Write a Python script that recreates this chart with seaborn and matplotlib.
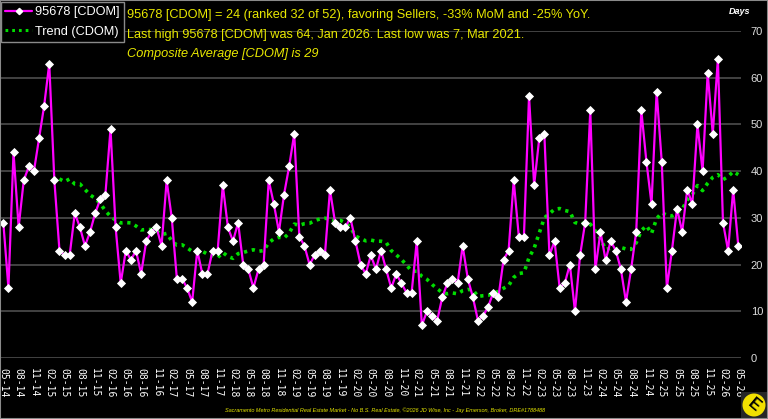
import numpy as np
import pandas as pd
import matplotlib
matplotlib.use("Agg")
import matplotlib.pyplot as plt
import seaborn as sns
from matplotlib.lines import Line2D
from matplotlib.patches import Circle, Rectangle

# ---- data (monthly CDOM, 05-2014 .. 05-2026) ----
months = pd.date_range("2014-05-01", periods=145, freq="MS")
cdom = [
    29, 15, 44, 28, 38, 41, 40, 47, 54, 63, 38, 23,
    22, 22, 31, 28, 24, 27, 31, 34, 35, 49, 28, 16,
    23, 21, 23, 18, 25, 27, 28, 24, 38, 30, 17, 17,
    15, 12, 23, 18, 18, 23, 23, 37, 28, 25, 29, 20,
    19, 15, 19, 20, 38, 33, 27, 35, 41, 48, 26, 24,
    20, 22, 23, 22, 36, 29, 28, 28, 30, 25, 20, 18,
    22, 19, 23, 19, 15, 18, 16, 14, 14, 25, 7, 10,
    9, 8, 13, 16, 17, 16, 24, 17, 13, 8, 9, 11,
    14, 13, 21, 23, 38, 26, 26, 56, 37, 47, 48, 22,
    25, 15, 16, 20, 10, 22, 29, 53, 19, 27, 21, 25,
    23, 19, 12, 19, 27, 53, 42, 33, 57, 42, 15, 23,
    32, 27, 36, 33, 50, 40, 61, 48, 64, 29, 23, 36,
    24,
]
tick_step = 3
tick_labels = [d.strftime("%m-%y") for d in months[::tick_step]]
y_ticks = [0, 10, 20, 30, 40, 50, 60, 70]

df = pd.DataFrame({"idx": np.arange(len(cdom)), "cdom": cdom})
df["trend"] = df["cdom"].rolling(12).mean()

# ---- style ----
sns.set_theme(style="dark")
plt.rcParams["font.family"] = ["Liberation Sans", "DejaVu Sans"]

W, H = 768, 419
fig = plt.figure(figsize=(W / 100, H / 100), dpi=100, facecolor="black")

ax = fig.add_axes([0 / W, (H - 358) / H, 741 / W, 327 / H])
ax.set_facecolor("black")

for yv in y_ticks:
    ax.axhline(yv, color="#4e4e4e", lw=1.2, zorder=0)

sns.lineplot(data=df, x="idx", y="trend", ax=ax, color="#00DD00",
             lw=2.6, linestyle=(0, (0.9, 1.3)), zorder=2)
sns.lineplot(data=df, x="idx", y="cdom", ax=ax, color="#FF00FF",
             lw=1.6, marker="D", markersize=3.8, markerfacecolor="white",
             markeredgecolor="white", markeredgewidth=0.6, zorder=3)

ax.set_xlim(-0.65, 144.53)
ax.set_ylim(0, 70)
for s in ax.spines.values():
    s.set_visible(False)

ax.set_xticks(np.arange(0, len(cdom), tick_step))
ax.set_xticklabels(tick_labels, rotation=-90, fontsize=7, color="white",
                   family="DejaVu Sans Mono")
ax.tick_params(axis="x", length=0, pad=7)

ax.yaxis.tick_right()
ax.set_yticks(y_ticks)
ax.set_yticklabels([str(v) for v in y_ticks], fontsize=8, color="#dddddd")
ax.tick_params(axis="y", length=0, pad=7)
ax.set_xlabel("")
ax.set_ylabel("")
ax.grid(False)

fig.text(740 / W, 1 - 11 / H, "Days", color="white", fontsize=6.5,
         fontweight="bold", style="italic", ha="center", va="center")

# legend
handles = [
    Line2D([0], [0], color="#FF00FF", lw=1.6, marker="D", markersize=3.2,
           markerfacecolor="white", markeredgecolor="white"),
    Line2D([0], [0], color="#00DD00", lw=2.2, linestyle=(0, (0.9, 1.3))),
]
leg = fig.legend(handles, ["95678 [CDOM]", "Trend (CDOM)"],
                 loc="upper left", bbox_to_anchor=(1 / W, 1 - 2 / H),
                 borderaxespad=0,
                 frameon=True, facecolor="black", edgecolor="#8a8a8a",
                 fontsize=9.2, labelcolor="white", handlelength=2.1,
                 handletextpad=0.2, borderpad=0.35, labelspacing=0.55,
                 fancybox=False, framealpha=1)
leg.get_frame().set_linewidth(1.0)

yellow = "#E8E800"
fig.text(127 / W, 1 - 15 / H,
         "95678 [CDOM] = 24 (ranked 32 of 52), favoring Sellers, -33% MoM and -25% YoY.",
         color=yellow, fontsize=9.2, va="center", ha="left")
fig.text(127 / W, 1 - 35 / H,
         "Last high 95678 [CDOM] was 64, Jan 2026. Last low was 7, Mar 2021.",
         color=yellow, fontsize=9.2, va="center", ha="left")
fig.text(127 / W, 1 - 54 / H, "Composite Average [CDOM] is 29",
         color=yellow, fontsize=9.2, va="center", ha="left", style="italic")

fig.text(385 / W, 1 - 410 / H,
         "Sacramento Metro Residential Real Estate Market - No B.S. Real Estate, \u00a92026 JD Wise, Inc - Jay Emerson, Broker, DRE#1788488",
         color=yellow, fontsize=3.95, style="italic", ha="center", va="center")

# logo (drawn in inch units so it stays round)
fig.add_artist(Rectangle((7.41, 0.0), 0.27, 0.27, transform=fig.dpi_scale_trans,
                         facecolor="#262626", edgecolor="none"))
fig.add_artist(Circle((7.54, 0.14), 0.115, transform=fig.dpi_scale_trans,
                      facecolor="#F2E000", edgecolor="none"))
fig.text(754 / W, 1 - 405 / H, "E", color="black", fontsize=12,
         fontweight="bold", ha="center", va="center", rotation=-40)

# figure border
fig.add_artist(Rectangle((0, 0), 1, 1, transform=fig.transFigure,
                         fill=False, edgecolor="#8a8a8a", lw=1.5))

fig.savefig("out.png", dpi=100, facecolor="black")
